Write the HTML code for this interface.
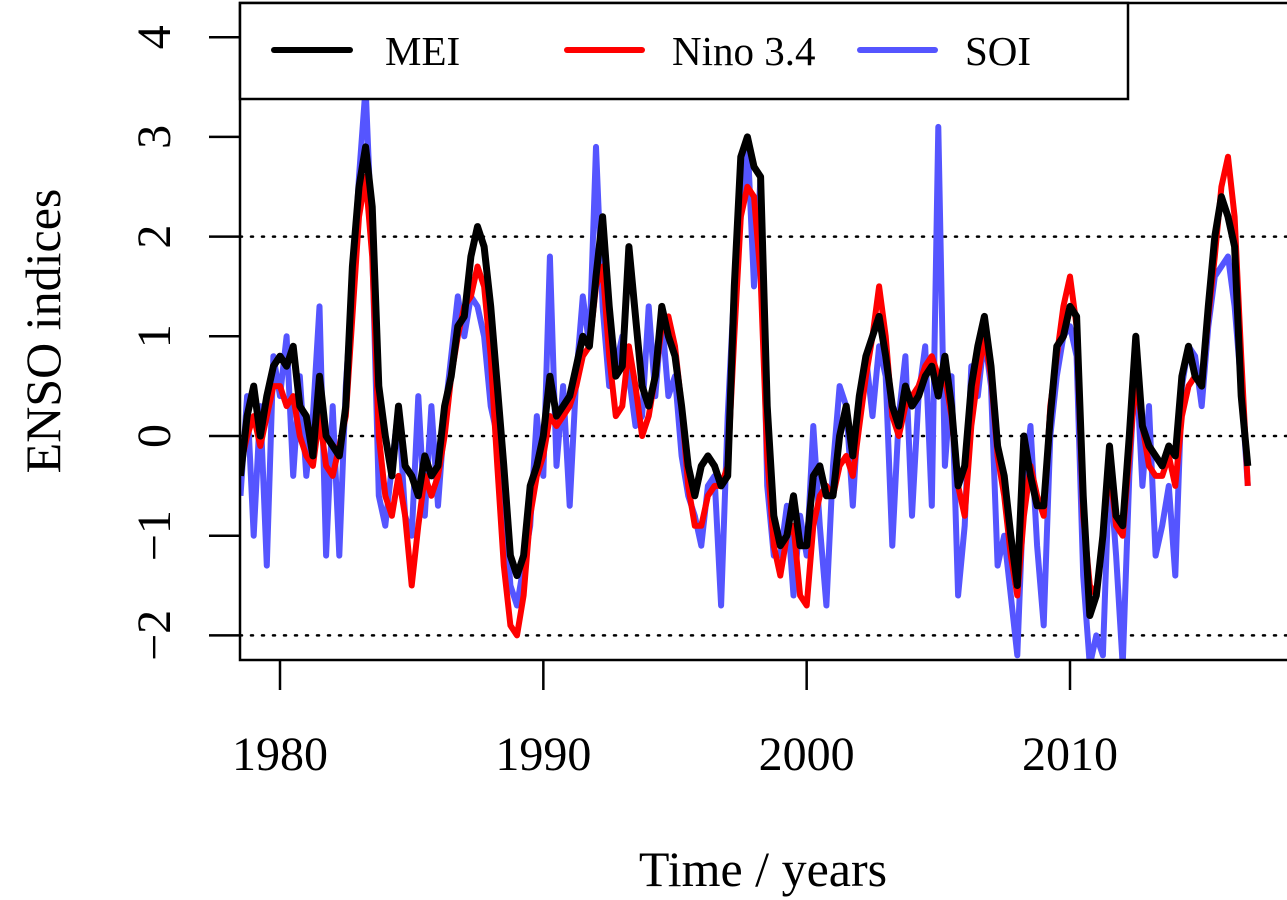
<!DOCTYPE html>
<html><head><meta charset="utf-8"><style>
body{margin:0;background:#fff;}
svg{display:block;font-family:"Liberation Serif",serif;}
</style></head><body>
<svg id="chart" width="1287" height="900" viewBox="0 0 1287 900" xmlns="http://www.w3.org/2000/svg">
<defs><clipPath id="clip"><rect x="240" y="3" width="1047" height="657"/></clipPath></defs>
<g id="series" clip-path="url(#clip)"></g>
<g id="axes"></g>
</svg>
<script>
const startYear = 1978.5;
const step = 0.25;
const mei = [-0.4,0.2,0.5,0.0,0.4,0.7,0.8,0.7,0.9,0.3,0.2,-0.2,0.6,0.0,-0.1,-0.2,0.3,1.7,2.5,2.9,2.3,0.5,0.0,-0.4,0.3,-0.3,-0.4,-0.6,-0.2,-0.4,-0.3,0.3,0.6,1.1,1.2,1.8,2.1,1.9,1.3,0.5,-0.3,-1.2,-1.4,-1.2,-0.5,-0.3,0.0,0.6,0.2,0.3,0.4,0.7,1.0,0.9,1.6,2.2,1.3,0.6,0.7,1.9,1.2,0.5,0.3,0.6,1.3,1.0,0.8,0.3,-0.3,-0.6,-0.3,-0.2,-0.3,-0.5,-0.4,1.5,2.8,3.0,2.7,2.6,0.3,-0.8,-1.1,-1.0,-0.6,-1.1,-1.1,-0.4,-0.3,-0.6,-0.6,0.0,0.3,-0.2,0.4,0.8,1.0,1.2,0.8,0.3,0.1,0.5,0.3,0.4,0.6,0.7,0.4,0.8,0.3,-0.5,-0.3,0.5,0.9,1.2,0.7,-0.1,-0.4,-1.0,-1.5,0.0,-0.4,-0.7,-0.7,0.2,0.9,1.0,1.3,1.2,-0.6,-1.8,-1.6,-1.0,-0.1,-0.8,-0.9,0.0,1.0,0.1,-0.1,-0.2,-0.3,-0.1,-0.2,0.6,0.9,0.6,0.5,1.3,2.0,2.4,2.2,1.9,0.4,-0.3];
const nino = [-0.3,0.0,0.2,-0.1,0.2,0.5,0.5,0.3,0.4,0.0,-0.2,-0.3,0.2,-0.3,-0.4,-0.1,0.2,1.2,2.2,2.6,1.8,0.0,-0.6,-0.8,-0.4,-0.8,-1.5,-0.9,-0.4,-0.6,-0.4,0.0,0.6,1.0,1.3,1.4,1.7,1.5,0.8,-0.3,-1.3,-1.9,-2.0,-1.6,-0.8,-0.4,-0.2,0.2,0.1,0.2,0.3,0.5,0.8,0.9,1.5,1.7,0.8,0.2,0.3,0.9,0.5,0.0,0.2,0.6,1.1,1.2,0.9,0.3,-0.5,-0.9,-0.9,-0.6,-0.5,-0.5,-0.3,1.0,2.2,2.5,2.4,1.6,-0.2,-1.1,-1.4,-1.0,-0.9,-1.6,-1.7,-0.9,-0.6,-0.5,-0.6,-0.3,-0.2,-0.4,0.1,0.6,1.0,1.5,1.0,0.2,0.0,0.3,0.4,0.5,0.7,0.8,0.6,0.6,0.2,-0.5,-0.8,0.1,0.6,1.0,0.6,-0.2,-0.6,-1.2,-1.6,-0.8,-0.3,-0.6,-0.8,0.3,0.8,1.3,1.6,1.1,-0.8,-1.5,-1.6,-1.0,-0.3,-0.9,-1.0,-0.2,0.6,0.1,-0.3,-0.4,-0.4,-0.2,-0.5,0.2,0.5,0.6,0.5,1.2,1.8,2.5,2.8,2.2,0.8,-0.5];
const soi = [-0.6,0.4,-1.0,0.3,-1.3,0.8,0.4,1.0,-0.4,0.6,-0.4,0.2,1.3,-1.2,0.3,-1.2,0.5,1.5,2.6,3.5,1.9,-0.6,-0.9,-0.3,0.3,-0.8,-1.0,0.4,-0.8,0.3,-0.7,0.2,0.8,1.4,1.0,1.4,1.3,1.0,0.3,0.0,-0.6,-1.5,-1.7,-1.3,-0.9,0.2,-0.4,1.8,-0.3,0.5,-0.7,0.6,1.4,0.9,2.9,1.3,0.5,0.7,1.0,0.6,0.1,0.2,1.3,0.4,1.2,0.4,0.6,-0.2,-0.6,-0.8,-1.1,-0.5,-0.4,-1.7,0.2,1.5,2.2,3.0,1.5,2.6,-0.5,-1.2,-1.2,-0.7,-1.6,-0.8,-1.2,0.1,-0.9,-1.7,-0.3,0.5,0.3,-0.7,0.4,0.8,0.2,0.9,0.6,-1.1,0.2,0.8,-0.8,0.4,0.9,-0.7,3.1,-0.3,0.6,-1.6,-0.9,0.7,0.4,1.0,0.5,-1.3,-1.0,-1.6,-2.2,-0.5,0.1,-1.1,-1.9,0.0,0.6,1.0,1.1,0.8,-1.4,-2.3,-2.0,-2.2,-0.3,-1.2,-2.3,-0.4,0.8,-0.5,0.3,-1.2,-0.9,-0.5,-1.4,0.5,0.9,0.8,0.3,1.1,1.6,1.7,1.8,1.3,0.5,-0.5];
const yTicks = [-2,-1,0,1,2,3,4];
const yTickLabels = ["\u22122","\u22121","0","1","2","3","4"];
const xTicks = [1980,1990,2000,2010];
const refLines = [-2,0,2];

const NS="http://www.w3.org/2000/svg";
const xScale = t => 280 + (t-1980)*(1070-280)/30;
const yScale = v => 436 - v*99.7;
function mk(tag, attrs, parent){const e=document.createElementNS(NS,tag);for(const k in attrs)e.setAttribute(k,attrs[k]);parent.appendChild(e);return e;}
const S=document.getElementById('series'), A=document.getElementById('axes');

refLines.forEach(v=>{
  const l=mk('line',{x1:240,x2:1287,y1:yScale(v),y2:yScale(v),stroke:'#000','stroke-width':2.5,'stroke-dasharray':'2 9','stroke-linecap':'round'},S);
  
  
});
function series(arr,color,w,name){
  const d=arr.map((v,i)=>(i?'L':'M')+xScale(startYear+i*step).toFixed(1)+','+yScale(v).toFixed(1)).join('');
  const p=mk('path',{d:d,fill:'none',stroke:color,'stroke-width':w,'stroke-linejoin':'round'},S);
  
  
}
series(soi,'#5555ff',6,'soi-line');
series(nino,'#ff0000',6,'nino34-line');
series(mei,'#000000',7,'mei-line');

const fr=mk('rect',{x:240,y:3,width:1060,height:657,fill:'none',stroke:'#000','stroke-width':2.5},A);


yTicks.forEach((v,i)=>{
  const y=yScale(v);
  const tk=mk('line',{x1:209,x2:240,y1:y,y2:y,stroke:'#000','stroke-width':2.5},A);
  
  
  const t=mk('text',{x:0,y:0,transform:`translate(170,${y}) rotate(-90)`,'text-anchor':'middle','font-size':48},A);
  t.textContent=yTickLabels[i];
  
  
});
xTicks.forEach(v=>{
  const x=xScale(v);
  const tk=mk('line',{x1:x,x2:x,y1:660,y2:690,stroke:'#000','stroke-width':2.5},A);
  
  
  const t=mk('text',{x:x,y:770,'text-anchor':'middle','font-size':48},A);
  t.textContent=String(v);
  
  
});
const xt=mk('text',{x:763,y:886,'text-anchor':'middle','font-size':50},A);
xt.textContent='Time / years';


const yt=mk('text',{x:0,y:0,transform:'translate(60,331) rotate(-90)','text-anchor':'middle','font-size':50},A);
yt.textContent='ENSO indices';



const lg=mk('g',{},A);


mk('rect',{x:240,y:3,width:888,height:96,fill:'#fff',stroke:'#000','stroke-width':2.5},lg);
const entries=[['MEI','#000',274,350,385,'legend-entry-mei'],['Nino 3.4','#ff0000',567,642,672,'legend-entry-nino34'],['SOI','#5555ff',860,935,965,'legend-entry-soi']];
entries.forEach(e=>{
  const g=mk('g',{},lg);
  
  
  mk('line',{x1:e[2],x2:e[3],y1:50,y2:50,stroke:e[1],'stroke-width':6,'stroke-linecap':'round'},g);
  const t=mk('text',{x:e[4],y:65,'font-size':41},g);
  t.textContent=e[0];
});
</script>
</body></html>
